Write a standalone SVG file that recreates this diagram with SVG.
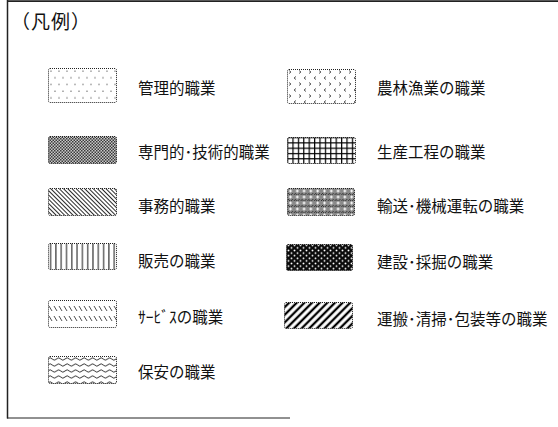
<svg xmlns="http://www.w3.org/2000/svg" width="558" height="427" viewBox="0 0 558 427">
<style>
  .lbl { font-family: "Noto Sans CJK JP", "Noto Sans CJK SC", sans-serif; font-size: 15.5px; fill: #111; }
  .ttl { font-family: "Noto Sans CJK JP", "Noto Sans CJK SC", sans-serif; font-size: 19px; fill: #111; }
  .sw { stroke: #222; stroke-width: 1; stroke-dasharray: 1 1; }
  .frame { stroke: #222; fill: none; }
</style>
<defs>
  <pattern id="pDots" patternUnits="userSpaceOnUse" x="48" y="68" width="8" height="13.4">
    <circle cx="3" cy="3" r="0.65" fill="#444"/>
    <circle cx="7" cy="9.7" r="0.65" fill="#444"/>
  </pattern>
  <pattern id="pCheck" patternUnits="userSpaceOnUse" x="0" y="0" width="3" height="3">
    <rect width="3" height="3" fill="#c8c8c8"/>
    <rect x="0" y="0" width="1.5" height="1.5" fill="#3a3a3a"/>
    <rect x="1.5" y="1.5" width="1.5" height="1.5" fill="#3a3a3a"/>
  </pattern>
  <pattern id="pBack" patternUnits="userSpaceOnUse" width="3" height="10" patternTransform="rotate(-45)">
    <line x1="1.5" y1="0" x2="1.5" y2="10" stroke="#111" stroke-width="0.9"/>
  </pattern>
  <pattern id="pVert" patternUnits="userSpaceOnUse" x="48" y="0" width="5.3" height="10">
    <line x1="2.6" y1="0" x2="2.6" y2="10" stroke="#111" stroke-width="1"/>
  </pattern>
  <pattern id="pServ" patternUnits="userSpaceOnUse" x="48" y="300" width="5" height="27">
    <line x1="1" y1="6" x2="4" y2="11" stroke="#222" stroke-width="0.8"/>
    <line x1="1" y1="16" x2="4" y2="21" stroke="#222" stroke-width="0.8"/>
  </pattern>
  <pattern id="pWave" patternUnits="userSpaceOnUse" x="48" y="356" width="8.5" height="6">
    <path d="M0,3 Q2.125,0.5 4.25,3 T8.5,3" fill="none" stroke="#222" stroke-width="0.9"/>
  </pattern>
  <pattern id="pChev" patternUnits="userSpaceOnUse" x="287" y="69" width="10" height="12">
    <polyline points="2,1.5 4,3 2,4.5" fill="none" stroke="#333" stroke-width="0.8"/>
    <polyline points="9,7.5 7,9 9,10.5" fill="none" stroke="#333" stroke-width="0.8"/>
  </pattern>
  <pattern id="pGrid" patternUnits="userSpaceOnUse" x="287" y="137" width="5.4" height="5.3">
    <rect width="5.4" height="5.3" fill="#fff"/>
    <line x1="0.6" y1="0" x2="0.6" y2="5.3" stroke="#000" stroke-width="1.2"/>
    <line x1="0" y1="0.6" x2="5.4" y2="0.6" stroke="#000" stroke-width="1.2"/>
  </pattern>
  <pattern id="pTrans" patternUnits="userSpaceOnUse" x="287" y="188" width="6.8" height="6">
    <rect width="6.8" height="6" fill="#8a8a8a"/>
    <rect x="0" y="0" width="1" height="1" fill="#333"/>
    <rect x="2" y="0" width="1" height="1" fill="#333"/>
    <rect x="4" y="0" width="1" height="1" fill="#333"/>
    <rect x="1" y="5" width="1" height="1" fill="#333"/>
    <rect x="5" y="5" width="1" height="1" fill="#333"/>
    <rect x="3" y="1.5" width="1" height="3" fill="#fff"/>
    <rect x="2" y="2.5" width="3" height="1" fill="#fff"/>
  </pattern>
  <pattern id="pBuild" patternUnits="userSpaceOnUse" x="287" y="244" width="6" height="5.2">
    <rect width="6" height="5.2" fill="#0a0a0a"/>
    <circle cx="1.5" cy="1.3" r="0.95" fill="#fff"/>
    <circle cx="4.5" cy="3.9" r="0.95" fill="#fff"/>
  </pattern>
  <pattern id="pStripe" patternUnits="userSpaceOnUse" width="5.4" height="10" patternTransform="rotate(45)">
    <line x1="2.7" y1="0" x2="2.7" y2="10" stroke="#000" stroke-width="2.3"/>
  </pattern>
</defs>

<g id="frame">
  <line class="frame" x1="7.5" y1="0" x2="7.5" y2="418.5" stroke-width="1.5"/>
  <line class="frame" x1="7" y1="1.2" x2="558" y2="1.2" stroke-width="1.8"/>
  <line class="frame" x1="7" y1="418" x2="290" y2="418" stroke-width="1" stroke="#555"/>
</g>

<g id="title">
  <text class="ttl" x="11 31 51 71" y="29">（凡例）</text>
</g>

<g id="item-kanri">
  <rect class="sw" x="48.5" y="68.5" width="68" height="34" rx="1.5" fill="url(#pDots)"/>
  <text class="lbl" x="138" y="94">管理的職業</text>
</g>
<g id="item-senmon">
  <rect class="sw" x="48.5" y="136.5" width="68" height="27" rx="1.5" fill="url(#pCheck)"/>
  <text class="lbl" x="138" y="158">専門的･技術的職業</text>
</g>
<g id="item-jimu">
  <rect class="sw" x="48.5" y="188.5" width="68" height="27" rx="1.5" fill="url(#pBack)"/>
  <text class="lbl" x="138" y="212">事務的職業</text>
</g>
<g id="item-hanbai">
  <rect class="sw" x="48.5" y="243.5" width="68" height="26" rx="1.5" fill="url(#pVert)"/>
  <text class="lbl" x="138" y="267">販売の職業</text>
</g>
<g id="item-service">
  <rect class="sw" x="48.5" y="300.5" width="68" height="27" rx="1.5" fill="url(#pServ)"/>
  <text class="lbl" x="138" y="323">ｻｰﾋﾞｽの職業</text>
</g>
<g id="item-hoan">
  <rect class="sw" x="48.5" y="356.5" width="68" height="27" rx="1.5" fill="url(#pWave)"/>
  <text class="lbl" x="138" y="378">保安の職業</text>
</g>

<g id="item-nourin">
  <rect class="sw" x="287.5" y="69.5" width="68" height="34" rx="1.5" fill="url(#pChev)"/>
  <text class="lbl" x="377" y="94">農林漁業の職業</text>
</g>
<g id="item-seisan">
  <rect class="sw" x="287.5" y="137.5" width="68" height="26" rx="1.5" fill="url(#pGrid)"/>
  <text class="lbl" x="377" y="158">生産工程の職業</text>
</g>
<g id="item-yusou">
  <rect class="sw" x="287.5" y="188.5" width="67" height="27" rx="1.5" fill="url(#pTrans)"/>
  <text class="lbl" x="377" y="212">輸送･機械運転の職業</text>
</g>
<g id="item-kensetsu">
  <rect class="sw" x="286.5" y="244.5" width="66" height="26" rx="1.5" fill="url(#pBuild)"/>
  <text class="lbl" x="377" y="268">建設･採掘の職業</text>
</g>
<g id="item-unpan">
  <rect class="sw" x="284.5" y="302.5" width="68" height="26" rx="1.5" fill="url(#pStripe)"/>
  <text class="lbl" x="377" y="325">運搬･清掃･包装等の職業</text>
</g>
</svg>
